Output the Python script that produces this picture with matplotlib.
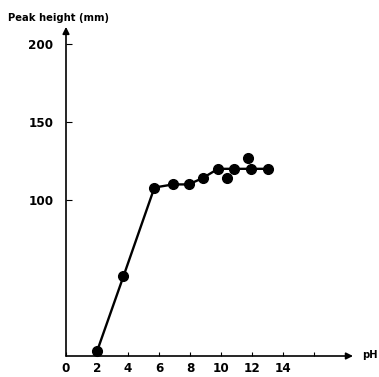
import matplotlib.pyplot as plt

plt.rcParams['font.family'] = ['DejaVu Sans']
plt.rcParams['font.stretch'] = 'condensed'

# points on the line
ph_line = [2.0, 3.7, 5.7, 6.9, 7.9, 8.8, 9.8, 10.8, 11.9, 13.0]
height_line = [3, 51, 108, 110, 110, 114, 120, 120, 120, 120]
# scattered points off the line
ph_extra = [10.4, 11.7]
height_extra = [114, 127]

xticks = [0, 2, 4, 6, 8, 10, 12, 14, 16]
xticklabels = ['0', '2', '4', '6', '8', '10', '12', '14', '']
yticks = [100, 150, 200]

fig = plt.figure(figsize=(3.79, 3.77), dpi=100)
ax = fig.add_axes([66/379, 21/377, 287/379, 326/377])
ax.set_xlim(0, 18.5)
ax.set_ylim(0, 209)

ax.plot(ph_line, height_line, color='black', lw=1.7, marker='o', ms=7, clip_on=False)
ax.plot(ph_extra, height_extra, 'o', color='black', ms=7, clip_on=False)

for s in ax.spines.values():
    s.set_visible(False)
arrow = dict(arrowstyle='-|>', color='black', lw=1.2, mutation_scale=10, shrinkA=0, shrinkB=0)
ax.annotate('', xy=(18.5, 0), xytext=(0, 0), arrowprops=arrow, annotation_clip=False)
ax.annotate('', xy=(0, 211), xytext=(0, 0), arrowprops=arrow, annotation_clip=False)

ax.set_xticks(xticks)
ax.set_xticklabels(xticklabels, fontweight='bold', fontsize=9.5)
ax.set_yticks(yticks)
ax.set_yticklabels([str(v) for v in yticks], fontweight='bold', fontsize=9.5)
ax.tick_params(axis='x', direction='in', length=3, width=0.8, pad=4)
ax.tick_params(axis='y', direction='in', length=4, width=0.8, pad=9)

fig.text(8/379, 1 - 18/377, 'Peak height (mm)', fontsize=8, fontweight='bold', va='center')
fig.text(362/379, 1 - 355/377, 'pH', fontsize=8, fontweight='bold', va='center')

fig.savefig('out.png', dpi=100)
